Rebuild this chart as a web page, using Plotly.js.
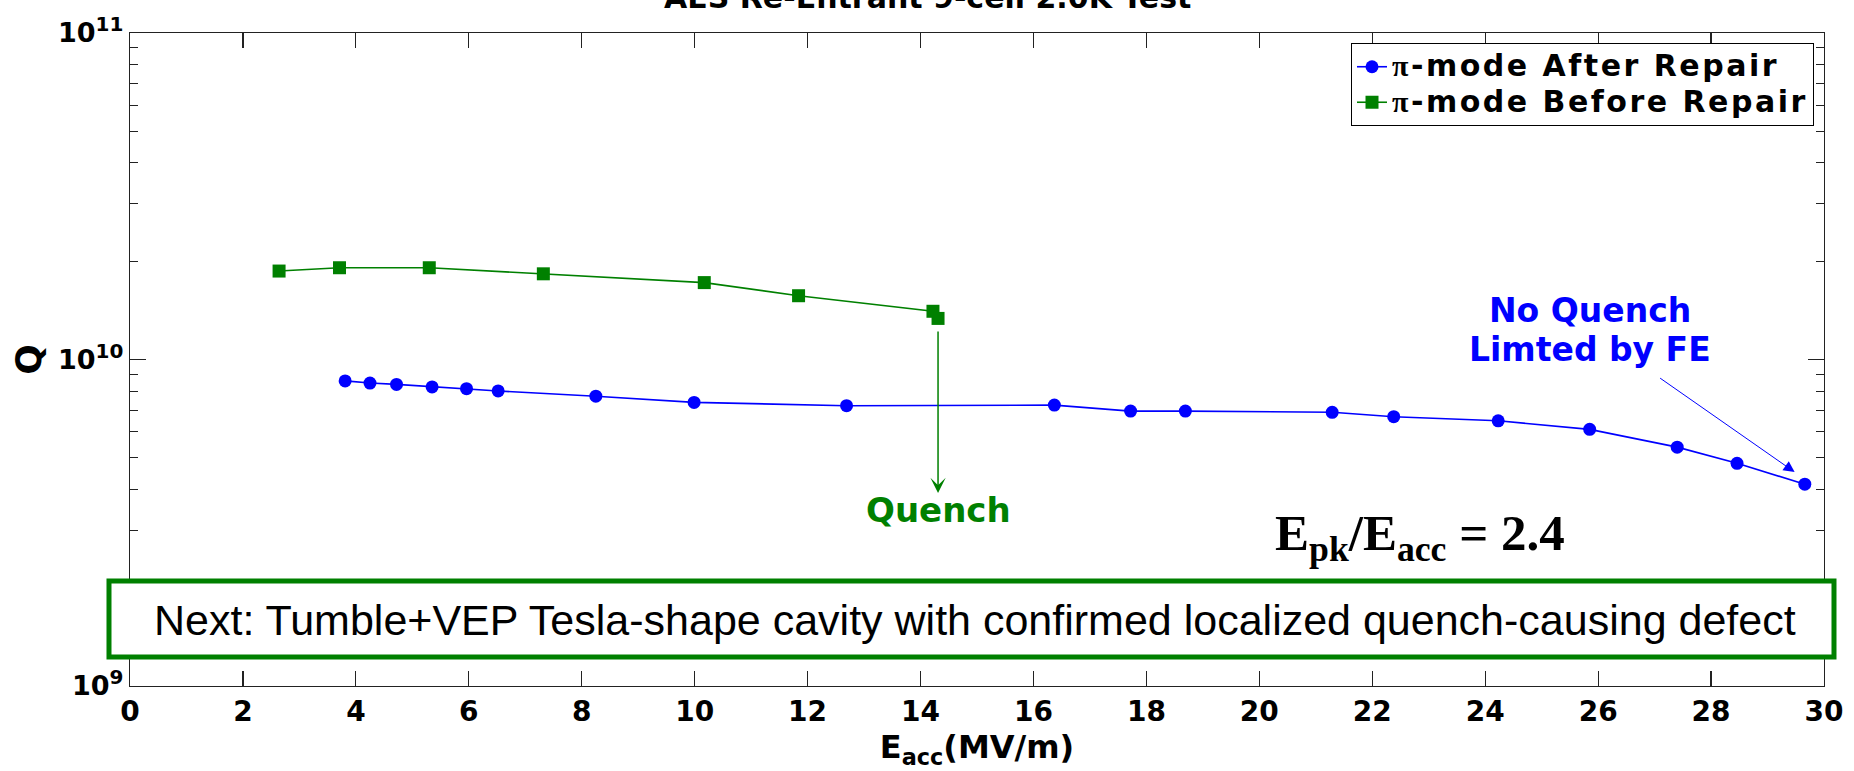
<!DOCTYPE html>
<html>
<head>
<meta charset="utf-8">
<script src="https://cdn.plot.ly/plotly-3.0.1.min.js"></script>
<style>
  html, body { margin: 0; padding: 0; background: #fff; }
  #chart { width: 1854px; height: 771px; }
</style>
</head>
<body>
<div id="chart"></div>
<script>
// ---- data ----
const afterE = [3.81, 4.25, 4.72, 5.35, 5.96, 6.52, 8.25, 9.99, 12.69, 16.37, 17.72, 18.69, 21.29, 22.38, 24.23, 25.85, 27.40, 28.46, 29.66];
const afterQ = [8.6e9, 8.47e9, 8.39e9, 8.24e9, 8.14e9, 8.01e9, 7.72e9, 7.39e9, 7.22e9, 7.25e9, 6.95e9, 6.95e9, 6.89e9, 6.68e9, 6.49e9, 6.11e9, 5.39e9, 4.81e9, 4.15e9];
const beforeE = [2.64, 3.71, 5.30, 7.32, 10.17, 11.84, 14.22, 14.31];
const beforeQ = [1.866e10, 1.91e10, 1.91e10, 1.83e10, 1.72e10, 1.568e10, 1.405e10, 1.336e10];

const seriesNames = ["π-mode After Repair", "π-mode Before Repair"];
const xTickVals = [0, 2, 4, 6, 8, 10, 12, 14, 16, 18, 20, 22, 24, 26, 28, 30];
const yTickVals = [1e9, 1e10, 1e11];
const yTickExp = ["9", "10", "11"];
const yMinorVals = [2e9, 3e9, 4e9, 5e9, 6e9, 7e9, 8e9, 9e9, 2e10, 3e10, 4e10, 5e10, 6e10, 7e10, 8e10, 9e10];

const titleText = "AES Re-Entrant 9-cell 2.0K Test";
const noteText = "Next: Tumble+VEP Tesla-shape cavity with confirmed localized quench-causing defect";
const quenchTipQ = 3.9e9;            // where the green arrow ends
const feArrowHead = [29.48, 4.52e9]; // blue arrow head

const BLUE = "rgb(0,0,255)";
const GREEN = "rgb(0,128,0)";
const BOLDSANS = "DejaVu Sans, Verdana, sans-serif";
const SANS = "Liberation Sans, Arial, sans-serif";
const SERIF = "Liberation Serif, Times New Roman, serif";

const yTickText = yTickExp.map(e => "10<sup><span style='font-size:20px'>" + e + "</span></sup>");

function legendLabel(s) {
  const parts = s.split("π");
  return "<span style='font-size:30px;letter-spacing:2.5px'><span style='font-family:Liberation Serif'>π</span>" + parts[1] + "</span>";
}

const traces = [
  {
    x: afterE, y: afterQ, type: "scatter", mode: "lines+markers",
    name: legendLabel(seriesNames[0]),
    line: { color: BLUE, width: 1.6 },
    marker: { color: BLUE, size: 13, symbol: "circle" }
  },
  {
    x: beforeE, y: beforeQ, type: "scatter", mode: "lines+markers",
    name: legendLabel(seriesNames[1]),
    line: { color: GREEN, width: 1.6 },
    marker: { color: GREEN, size: 13, symbol: "square" }
  }
];

const lastGreenE = beforeE[beforeE.length - 1];

const layout = {
  width: 1854, height: 771,
  margin: { l: 130, r: 30, t: 33, b: 85 },
  paper_bgcolor: "#fff", plot_bgcolor: "#fff",
  showlegend: true,
  legend: {
    x: 0.9941, xanchor: "right", y: 0.9847, yanchor: "top",
    bgcolor: "#fff", bordercolor: "#000", borderwidth: 1,
    font: { family: BOLDSANS, size: 25, color: "#000", weight: "bold" },
    tracegroupgap: 0
  },
  xaxis: {
    range: [0, 30], tickmode: "array", tickvals: xTickVals,
    ticks: "inside", ticklen: 15, tickwidth: 1.2, tickcolor: "#222",
    showline: true, linecolor: "#222", linewidth: 1.2, mirror: "ticks",
    showgrid: false, zeroline: false,
    tickfont: { family: BOLDSANS, size: 28, color: "#000", weight: "bold" },
    title: { text: "E<sub>acc</sub>(MV/m)", standoff: 4,
             font: { family: BOLDSANS, size: 32, color: "#000", weight: "bold" } }
  },
  yaxis: {
    type: "log", range: [9, 11], tickmode: "array",
    tickvals: yTickVals, ticktext: yTickText,
    ticks: "inside", ticklen: 16, tickwidth: 1.2, tickcolor: "#222",
    minor: { tickmode: "array", tickvals: yMinorVals, ticks: "inside", ticklen: 8, tickwidth: 1, tickcolor: "#222", showgrid: false },
    showline: true, linecolor: "#222", linewidth: 1.2, mirror: "ticks",
    showgrid: false, zeroline: false,
    tickfont: { family: BOLDSANS, size: 27, color: "#000", weight: "bold" },
    title: { text: "Q", standoff: 5,
             font: { family: BOLDSANS, size: 36, color: "#000", weight: "bold" } }
  },
  shapes: [
    {
      type: "rect", xref: "paper", yref: "paper", layer: "above",
      x0: -0.0124, x1: 1.0059, y0: 0.0444, y1: 0.1608,
      line: { color: GREEN, width: 5 }, fillcolor: "#fff"
    }
  ],
  annotations: [
    { // title (clipped at top as in the reference)
      text: titleText, xref: "paper", yref: "paper", x: 0.471, y: 1.0551,
      xanchor: "center", yanchor: "middle", showarrow: false,
      font: { family: BOLDSANS, size: 30, color: "#000", weight: "bold" }
    },
    { // quench arrow
      text: "", x: lastGreenE, y: Math.log10(quenchTipQ), xref: "x", yref: "y",
      showarrow: true, ax: 0, ay: -163, arrowhead: 3, arrowsize: 1.7,
      arrowwidth: 1.5, arrowcolor: GREEN
    },
    {
      text: "Quench", xref: "paper", yref: "paper", x: 0.477, y: 0.2695,
      xanchor: "center", yanchor: "middle", showarrow: false,
      font: { family: BOLDSANS, size: 34, color: GREEN, weight: "bold" }
    },
    {
      text: "No Quench", xref: "paper", yref: "paper", x: 0.8619, y: 0.5743,
      xanchor: "center", yanchor: "middle", showarrow: false,
      font: { family: BOLDSANS, size: 33, color: BLUE, weight: "bold" }
    },
    {
      text: "Limted by FE", xref: "paper", yref: "paper", x: 0.8619, y: 0.5146,
      xanchor: "center", yanchor: "middle", showarrow: false,
      font: { family: BOLDSANS, size: 33, color: BLUE, weight: "bold" }
    },
    { // blue arrow to the last point
      text: "", x: feArrowHead[0], y: Math.log10(feArrowHead[1]), xref: "x", yref: "y",
      showarrow: true, ax: -136, ay: -95, arrowhead: 2, arrowsize: 2.2,
      arrowwidth: 1, arrowcolor: BLUE
    },
    {
      text: "E<sub>pk</sub>/E<sub>acc</sub> = 2.4", xref: "paper", yref: "paper",
      x: 0.7615, y: 0.2282, xanchor: "center", yanchor: "middle", showarrow: false,
      font: { family: SERIF, size: 51, color: "#000", weight: "bold" }
    },
    {
      text: noteText, xref: "paper", yref: "paper", x: 0.499, y: 0.1011,
      xanchor: "center", yanchor: "middle", showarrow: false,
      font: { family: SANS, size: 43, color: "#000" }
    }
  ]
};

Plotly.newPlot("chart", traces, layout, { displayModeBar: false, staticPlot: true });
</script>
</body>
</html>
